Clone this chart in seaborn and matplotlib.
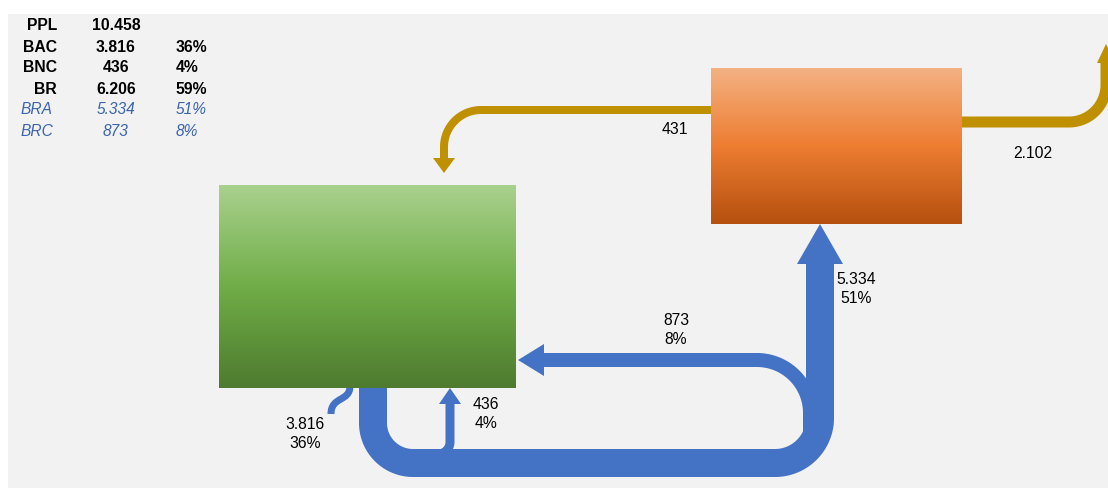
import numpy as np
import matplotlib
matplotlib.use("Agg")
import matplotlib.pyplot as plt
from matplotlib.path import Path
from matplotlib.patches import PathPatch, Polygon, Rectangle
import seaborn as sns

# ---- balance figures (people, share of total) ----
table_labels = ["PPL", "BAC", "BNC", "BR", "BRA", "BRC"]
table_values = [10458, 3816, 436, 6206, 5334, 873]
table_shares = [None, 36, 4, 59, 51, 8]
table_italic = [False, False, False, False, True, True]

# yellow flows leaving the second compartment
gold_values = [431, 2102]

# ---- styling ----
sns.set_theme(style="white")
plt.rcParams["font.family"] = ["Liberation Sans", "DejaVu Sans"]

BLUE = "#4472C4"
GOLD = "#BF9000"
PANEL = "#F2F2F2"
TXT_BLUE = "#3B64AD"
green_cmap = sns.blend_palette(["#A9D18E", "#70AD47", "#4E7B2F"], n_colors=256, as_cmap=True)
orange_cmap = sns.blend_palette(["#F4B183", "#ED7D31", "#B5500F"], n_colors=256, as_cmap=True)

W, H = 1108, 488
fig = plt.figure(figsize=(W / 100, H / 100), dpi=100)
fig.patch.set_facecolor("white")
ax = fig.add_axes([0, 0, 1, 1])
ax.set_axis_off()

PX = 72 / 100  # points per pixel


def fmt(v):
    return f"{v:,}".replace(",", ".")


def arc(cx, cy, r, a0, a1, n=40):
    a = np.radians(np.linspace(a0, a1, n))
    return list(zip(cx + r * np.cos(a), cy + r * np.sin(a)))


def stroke(pts, width, color, z=2):
    xs, ys = zip(*pts)
    ax.plot(xs, ys, color=color, lw=width * PX, solid_capstyle="butt",
            solid_joinstyle="round", zorder=z)


def head(pts, color, z=3):
    ax.add_patch(Polygon(pts, closed=True, facecolor=color, edgecolor="none", zorder=z))


def gradient_box(x0, y0, x1, y1, cmap):
    grad = np.linspace(0, 1, 256).reshape(-1, 1)
    ax.imshow(grad, cmap=cmap, extent=(x0, x1, y1, y0), origin="upper",
              aspect="auto", interpolation="bilinear", zorder=4)


# background panel
ax.add_patch(Rectangle((8, 14), W - 8, H - 14, facecolor=PANEL, edgecolor="none", zorder=0))

# ---- blue flows ----
# main loop from the first compartment round to the second
main = [(373, 388), (373, 423)] + arc(413, 423, 40, 180, 90) + [(775, 463)] \
    + arc(775, 418, 45, 90, 0) + [(820, 263)]
stroke(main, 28, BLUE)
head([(820, 224), (797, 264), (843, 264)], BLUE)

# returning branch
branch = [(543, 360), (757, 360)] + arc(757, 413, 53, -90, 0) + [(810, 440)]
stroke(branch, 14, BLUE)
head([(518, 360), (544, 344), (544, 376)], BLUE)

# small branch back up
small = arc(438, 442, 12, 90, 0) + [(450, 403)]
stroke(small, 9, BLUE)
head([(450, 388), (439, 404), (461, 404)], BLUE)

# S-shaped outflow
s_path = Path([(350, 386), (350, 402), (331, 396), (331, 414)],
              [Path.MOVETO, Path.CURVE4, Path.CURVE4, Path.CURVE4])
ax.add_patch(PathPatch(s_path, facecolor="none", edgecolor=BLUE, lw=7 * PX,
                       capstyle="butt", zorder=2))

# ---- gold flows ----
g1 = [(712, 110), (481, 110)] + arc(481, 147, 37, -90, -180) + [(444, 159)]
stroke(g1, 8, GOLD)
head([(444, 173), (433, 158), (455, 158)], GOLD)

g2 = [(961, 122), (1069, 122)] + arc(1069, 85, 37, 90, 0) + [(1106, 62)]
stroke(g2, 11, GOLD)
head([(1106, 44), (1097, 63), (1116, 63)], GOLD)

# ---- compartments ----
gradient_box(219, 185, 516, 388, green_cmap)
gradient_box(711, 68, 962, 224, orange_cmap)

# ---- flow labels ----
lab = dict(fontsize=11.3, color="black", ha="center", va="center",
           multialignment="center", linespacing=1.3, zorder=6)
idx = {k: i for i, k in enumerate(table_labels)}
for key, (x, y) in {"BAC": (305, 434), "BNC": (486, 414),
                    "BRA": (856, 289), "BRC": (676, 330)}.items():
    i = idx[key]
    ax.text(x, y, f"{fmt(table_values[i])}\n{table_shares[i]}%", **lab)
ax.text(675, 130, fmt(gold_values[0]), **lab)
ax.text(1033, 153, fmt(gold_values[1]), **lab)

# ---- summary table ----
row_y = 26
for name, val, share, ital in zip(table_labels, table_values, table_shares, table_italic):
    if ital:
        kw = dict(fontsize=11.2, color=TXT_BLUE, style="italic", va="center", zorder=6)
        ax.text(37, row_y, name, ha="center", **kw)
    else:
        kw = dict(fontsize=11.3, color="black", weight="bold", va="center", zorder=6)
        ax.text(57, row_y, name, ha="right", **kw)
    ax.text(116, row_y, fmt(val), ha="center", **kw)
    if share is not None:
        ax.text(176, row_y, f"{share}%", ha="left", **kw)
    row_y += 21

ax.set_xlim(0, W)
ax.set_ylim(H, 0)
fig.savefig("out.png", dpi=100, facecolor="white")
